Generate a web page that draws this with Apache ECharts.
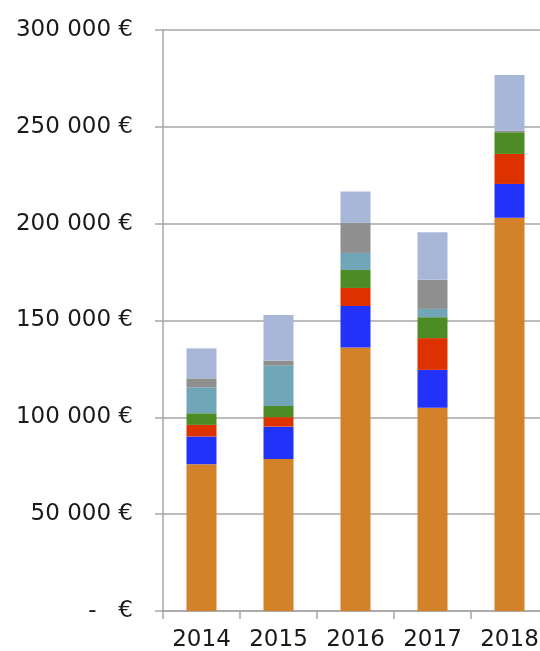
<!DOCTYPE html>
<html>
<head>
<meta charset="utf-8">
<script src="https://cdn.jsdelivr.net/npm/echarts@6/dist/echarts.min.js"></script>
<style>html,body{margin:0;padding:0;background:#fff;}#c{width:540px;height:651px;}</style>
</head>
<body>
<div id="c"></div>
<script>
var years = ['2014', '2015', '2016', '2017', '2018'];
var s1 = [75800, 78500, 136100, 105000, 203000];  // orange
var s2 = [14300, 16700, 21400, 19500, 17500];     // blue
var s3 = [6000, 4900, 9300, 16400, 15500];        // red
var s4 = [6000, 5800, 9300, 10800, 11200];        // green
var s5 = [13400, 20800, 8800, 4300, 0];           // teal
var s6 = [4600, 2600, 15500, 15000, 800];         // gray
var s7 = [15500, 23600, 16200, 24600, 28800];     // light blue
var yTicks = [0, 50000, 100000, 150000, 200000, 250000, 300000];

var seriesData = [s1, s2, s3, s4, s5, s6, s7];
var colors = ['#D4822A', '#2332FA', '#DD3200', '#4D8C25', '#71A6B8', '#8F8F8F', '#A8B6D8'];

function fmt(v) {
  if (v === 0) return '-   €';
  var s = String(Math.round(v));
  return s.replace(/\B(?=(\d{3})+(?!\d))/g, ' ') + ' €';
}

var chart = echarts.init(document.getElementById('c'), null, {renderer: 'canvas'});
chart.setOption({
  animation: false,
  grid: {left: 163, width: 385, top: 30, bottom: 40, containLabel: false, outerBoundsMode: 'none'},
  xAxis: {
    type: 'category',
    data: years,
    axisLine: {show: true, lineStyle: {color: '#A6A6A6', width: 1.5}},
    axisTick: {show: true, length: 8, lineStyle: {color: '#A6A6A6', width: 1.5}},
    axisLabel: {color: '#1a1a1a', fontSize: 23, fontFamily: 'DejaVu Sans', margin: 18, interval: 0, hideOverlap: false}
  },
  yAxis: {
    type: 'value',
    min: yTicks[0],
    max: yTicks[yTicks.length - 1],
    interval: 50000,
    axisLine: {show: true, lineStyle: {color: '#A6A6A6', width: 1.5}},
    axisTick: {show: true, length: 8, lineStyle: {color: '#A6A6A6', width: 1.5}},
    splitLine: {show: true, lineStyle: {color: '#A6A6A6', width: 1.5}},
    axisLabel: {color: '#1a1a1a', fontSize: 23, fontFamily: 'DejaVu Sans', margin: 30, formatter: fmt}
  },
  series: seriesData.map(function (d, i) {
    return {
      type: 'bar',
      stack: 'total',
      data: d,
      barWidth: 30,
      itemStyle: {color: colors[i]}
    };
  })
});
</script>
</body>
</html>
